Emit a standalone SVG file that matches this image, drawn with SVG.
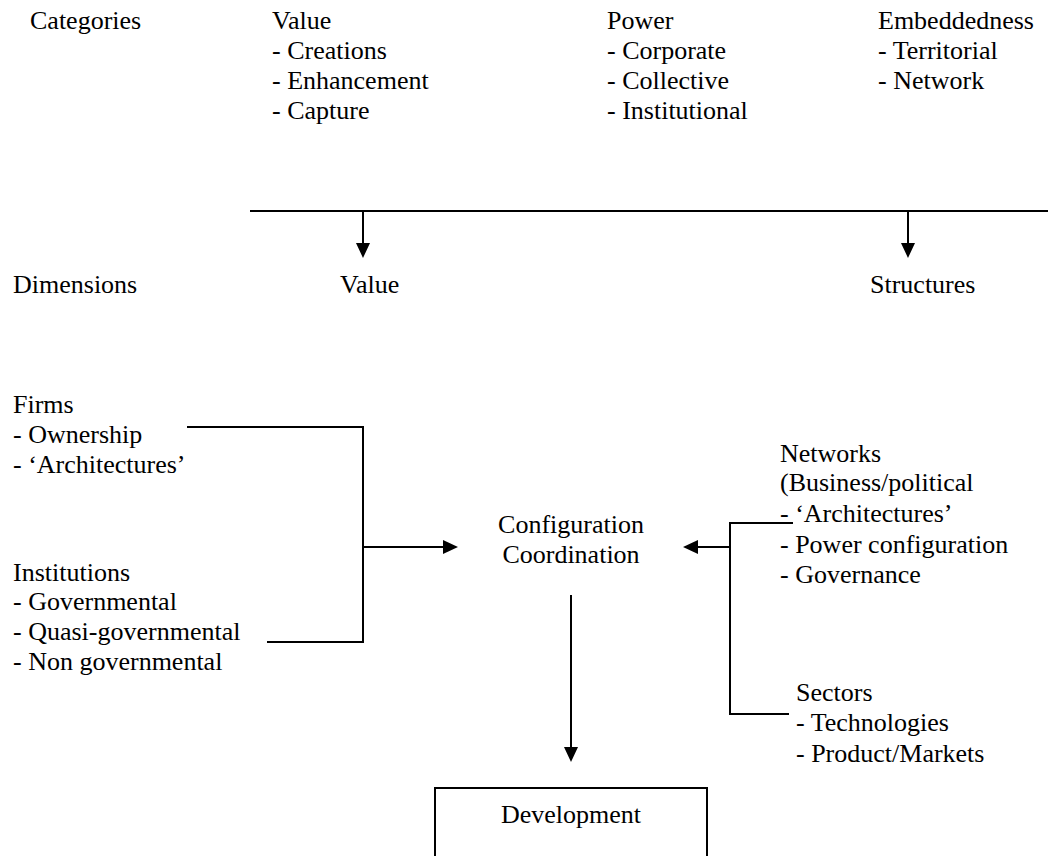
<svg xmlns="http://www.w3.org/2000/svg" width="1048" height="856" viewBox="0 0 1048 856">
  <style>
    .t { font-family: "Liberation Serif", Tinos, "Times New Roman", Times, "Nimbus Roman", "Nimbus Roman No9 L", FreeSerif, "Noto Serif", "DejaVu Serif", Georgia, serif; font-size: 26px; fill: #000; }
    .mid { text-anchor: middle; }
    .wire { fill: none; stroke: #000; stroke-width: 2; }
    .box { fill: #fff; stroke: #000; stroke-width: 2; }
  </style>
  <defs>
    <marker id="head" viewBox="0 0 15 14" refX="4" refY="7" markerWidth="15" markerHeight="14" markerUnits="userSpaceOnUse" orient="auto">
      <path d="M0,0 L15,7 L0,14 z" fill="#000"/>
    </marker>
  </defs>
  <rect width="1048" height="856" fill="#fff"/>

  <!-- category row -->
  <g id="categories-label"><text class="t" x="30" y="29">Categories</text></g>
  <g id="cat-value">
    <text class="t" x="272" y="29">Value</text>
    <text class="t" x="272" y="59">- Creations</text>
    <text class="t" x="272" y="89">- Enhancement</text>
    <text class="t" x="272" y="119">- Capture</text>
  </g>
  <g id="cat-power">
    <text class="t" x="607" y="29">Power</text>
    <text class="t" x="607" y="59">- Corporate</text>
    <text class="t" x="607" y="89">- Collective</text>
    <text class="t" x="607" y="119">- Institutional</text>
  </g>
  <g id="cat-embeddedness">
    <text class="t" x="878" y="29">Embeddedness</text>
    <text class="t" x="878" y="59">- Territorial</text>
    <text class="t" x="878" y="89">- Network</text>
  </g>

  <!-- dimension row -->
  <g id="dimensions-label"><text class="t" x="13" y="293">Dimensions</text></g>
  <g id="dim-value"><text class="t" x="340" y="293">Value</text></g>
  <g id="dim-structures"><text class="t" x="870" y="293">Structures</text></g>

  <!-- inputs -->
  <g id="firms">
    <text class="t" x="13" y="413">Firms</text>
    <text class="t" x="13" y="443">- Ownership</text>
    <text class="t" x="13" y="473">- ‘Architectures’</text>
  </g>
  <g id="institutions">
    <text class="t" x="13" y="581">Institutions</text>
    <text class="t" x="13" y="610">- Governmental</text>
    <text class="t" x="13" y="640">- Quasi-governmental</text>
    <text class="t" x="13" y="670">- Non governmental</text>
  </g>
  <g id="networks">
    <text class="t" x="780" y="462">Networks</text>
    <text class="t" x="780" y="491">(Business/political</text>
    <text class="t" x="780" y="522">- ‘Architectures’</text>
    <text class="t" x="780" y="553">- Power configuration</text>
    <text class="t" x="780" y="583">- Governance</text>
  </g>
  <g id="sectors">
    <text class="t" x="796" y="701">Sectors</text>
    <text class="t" x="796" y="731">- Technologies</text>
    <text class="t" x="796" y="762">- Product/Markets</text>
  </g>

  <g id="configuration">
    <text class="t mid" x="571" y="533">Configuration</text>
    <text class="t mid" x="571" y="563">Coordination</text>
  </g>

  <g id="development">
    <rect class="box" x="435" y="788" width="272" height="80"/>
    <text class="t mid" x="571" y="823">Development</text>
  </g>

  <!-- connectors -->
  <g id="connectors">
    <path class="wire" d="M250,211 H1048"/>
    <path class="wire" d="M363,211 V247" marker-end="url(#head)"/>
    <path class="wire" d="M908,211 V247" marker-end="url(#head)"/>

    <path class="wire" d="M187,427 H363 V642 H267"/>
    <path class="wire" d="M363,547 H447" marker-end="url(#head)"/>

    <path class="wire" d="M793,523 H730 V714 H789"/>
    <path class="wire" d="M730,547 H694" marker-end="url(#head)"/>

    <path class="wire" d="M571,595 V751" marker-end="url(#head)"/>
  </g>
</svg>
